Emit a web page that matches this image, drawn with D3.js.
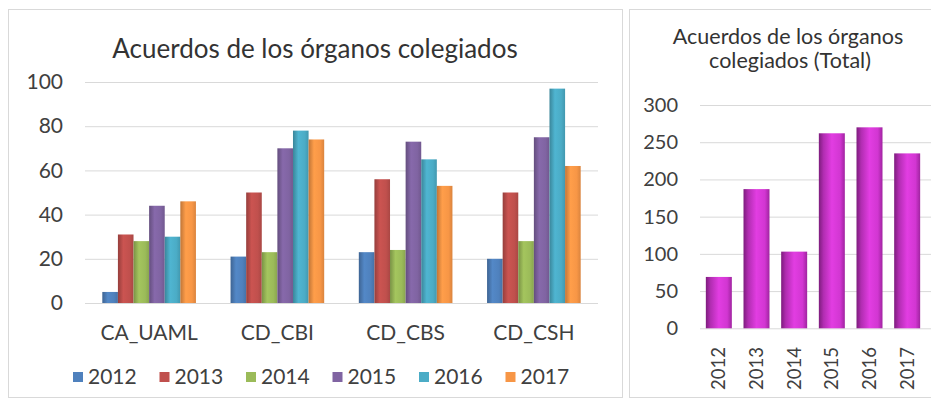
<!DOCTYPE html>
<html><head><meta charset="utf-8">
<script src="https://cdn.jsdelivr.net/npm/d3@7"></script>
<style>
html,body{margin:0;padding:0;background:#fff;}
text{font-family:Lato,"Open Sans",sans-serif;fill:#404040;}
</style></head>
<body>
<svg id="c" width="931" height="400"></svg>
<script>
// ---- data ----
const categories = ["CA_UAML", "CD_CBI", "CD_CBS", "CD_CSH"];
const years = ["2012", "2013", "2014", "2015", "2016", "2017"];
const values2012 = [5, 21, 23, 20];
const values2013 = [31, 50, 56, 50];
const values2014 = [28, 23, 24, 28];
const values2015 = [44, 70, 73, 75];
const values2016 = [30, 78, 65, 97];
const values2017 = [46, 74, 53, 62];
const yTicksLeft = [0, 20, 40, 60, 80, 100];
const totals = [69, 187, 103, 262, 270, 235];
const yTicksRight = [0, 50, 100, 150, 200, 250, 300];
const seriesColors = ["#4F81BD", "#C0504D", "#9BBB59", "#8064A2", "#4BACC6", "#F79646"];

const series = [values2012, values2013, values2014, values2015, values2016, values2017];

const svg = d3.select("#c");
const defs = svg.append("defs");

// gradients for left bars
seriesColors.forEach((c, i) => {
  const base = d3.color(c);
  const g = defs.append("linearGradient").attr("id", "g" + i)
    .attr("x1", "0%").attr("x2", "100%").attr("y1", "0%").attr("y2", "0%");
  g.append("stop").attr("offset", "0%").attr("stop-color", base.darker(0.7));
  g.append("stop").attr("offset", "35%").attr("stop-color", base.brighter(0.15));
  g.append("stop").attr("offset", "75%").attr("stop-color", base);
  g.append("stop").attr("offset", "100%").attr("stop-color", base.darker(0.35));
});
const mg = defs.append("linearGradient").attr("id", "gm")
  .attr("x1", "0%").attr("x2", "100%").attr("y1", "0%").attr("y2", "0%");
[["0%", "#7d1c7d"], ["18%", "#b12db1"], ["50%", "#e23de2"], ["82%", "#d236d2"], ["100%", "#a024a0"]]
  .forEach(([o, c]) => mg.append("stop").attr("offset", o).attr("stop-color", c));

// panels
svg.append("rect").attr("x", 8.5).attr("y", 9.5).attr("width", 614).attr("height", 388)
  .attr("fill", "#fff").attr("stroke", "#d9d9d9");
svg.append("rect").attr("x", 629.5).attr("y", 9.5).attr("width", 320).attr("height", 388)
  .attr("fill", "#fff").attr("stroke", "#d9d9d9");

// ---- left chart ----
const x0 = d3.scaleBand().domain(categories).range([85, 598]).paddingInner(0.27).paddingOuter(0.135);
const x1 = d3.scaleBand().domain(years).range([0, x0.bandwidth()]).padding(0);
const yL = d3.scaleLinear().domain([0, 100]).range([303, 82]);

const L = svg.append("g");
L.append("text").attr("x", 315).attr("y", 58).attr("text-anchor", "middle")
  .style("font-size", "26px").style("fill", "#333").text("Acuerdos de los órganos colegiados");

const yAxisL = d3.axisLeft(yL).tickValues(yTicksLeft).tickSize(-(598 - 85)).tickPadding(22);
const gyl = L.append("g").attr("transform", "translate(85,0)").call(yAxisL);
gyl.select(".domain").remove();
gyl.selectAll(".tick line").attr("stroke", "#d9d9d9");
gyl.selectAll(".tick text").style("font-size", "21px").style("font-family", "Lato").attr("fill", "#404040");

years.forEach((yr, si) => {
  L.append("g").selectAll("rect").data(categories).join("rect")
    .attr("x", (d) => x0(d) + x1(yr))
    .attr("width", x1.bandwidth())
    .attr("y", (d, ci) => yL(series[si][ci]))
    .attr("height", (d, ci) => yL(0) - yL(series[si][ci]))
    .attr("fill", "url(#g" + si + ")");
});

const xAxisL = d3.axisBottom(x0).tickSize(0).tickPadding(22);
const gxl = L.append("g").attr("transform", "translate(0,303)").call(xAxisL);
gxl.select(".domain").remove();
gxl.selectAll(".tick text").style("font-size", "21px").style("font-family", "Lato").attr("fill", "#404040");

// legend
const leg = L.append("g").selectAll("g").data(years).join("g")
  .attr("transform", (d, i) => `translate(${73 + i * 86.5},377)`);
leg.append("rect").attr("x", 0).attr("y", -5).attr("width", 10).attr("height", 10)
  .attr("fill", (d, i) => seriesColors[i]);
leg.append("text").attr("x", 15).attr("y", 0).attr("dy", "0.35em")
  .style("font-size", "21px").text((d) => d);

// ---- right chart ----
const xR = d3.scaleBand().domain(years).range([700, 926]).paddingInner(0.31).paddingOuter(0.155);
const yR = d3.scaleLinear().domain([0, 300]).range([328.3, 105]);
const R = svg.append("g");
R.append("text").attr("x", 788).attr("y", 44).attr("text-anchor", "middle")
  .style("font-size", "21.5px").style("fill", "#333").text("Acuerdos de los órganos");
R.append("text").attr("x", 790).attr("y", 68).attr("text-anchor", "middle")
  .style("font-size", "21.5px").style("fill", "#333").text("colegiados (Total)");

const yAxisR = d3.axisLeft(yR).tickValues(yTicksRight).tickSize(-(931 - 700)).tickPadding(22);
const gyr = R.append("g").attr("transform", "translate(700,0)").call(yAxisR);
gyr.select(".domain").remove();
gyr.selectAll(".tick line").attr("stroke", "#d9d9d9");
gyr.selectAll(".tick text").style("font-size", "20px").style("font-family", "Lato").attr("fill", "#404040");

R.append("g").selectAll("rect").data(years).join("rect")
  .attr("x", (d) => xR(d)).attr("width", xR.bandwidth())
  .attr("y", (d, i) => yR(totals[i]))
  .attr("height", (d, i) => yR(0) - yR(totals[i]))
  .attr("fill", "url(#gm)");

const xAxisR = d3.axisBottom(xR).tickSize(0).tickPadding(0);
const gxr = R.append("g").attr("transform", "translate(0,347)").call(xAxisR);
gxr.select(".domain").remove();
gxr.selectAll(".tick text")
  .attr("transform", "rotate(-90)")
  .attr("x", 0).attr("y", 0).attr("dy", "0.35em")
  .attr("text-anchor", "end")
  .style("font-size", "18.5px").style("font-family", "Lato").attr("fill", "#404040");
</script>
</body></html>
